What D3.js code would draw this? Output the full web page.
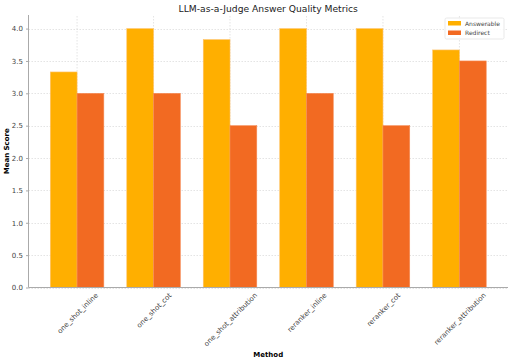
<!DOCTYPE html>
<html>
<head>
<meta charset="utf-8">
<script src="https://cdn.jsdelivr.net/npm/d3@7"></script>
<style>
  body { margin: 0; background: #fff; }
  text { font-family: "DejaVu Sans", sans-serif; }
</style>
</head>
<body>
<div id="chart"></div>
<script>
// data
let methods = ['one_shot_inline', 'one_shot_cot', 'one_shot_attribution', 'reranker_inline', 'reranker_cot', 'reranker_attribution'];
let answerable = [3.33, 4.0, 3.83, 4.0, 4.0, 3.67];
let redirect = [3.0, 3.0, 2.5, 3.0, 2.5, 3.5];
let seriesNames = ['Answerable', 'Redirect'];
let yTicks = [0, 0.5, 1.0, 1.5, 2.0, 2.5, 3.0, 3.5, 4.0];

let width = 512, height = 363;
let colors = ['#ffaf00', '#f26a22'];
let barW = 0.35;

let svg = d3.select('#chart').append('svg')
  .attr('width', width)
  .attr('height', height);

// matplotlib style numeric x axis, groups at 0..5
let x = d3.scaleLinear().domain([-0.635, methods.length - 1 + 0.635]).range([28.5, 508]);
let y = d3.scaleLinear().domain([0, 4.21]).range([287.5, 15]);

// grid
svg.append('g').selectAll('line.gy')
  .data(yTicks).enter().append('line')
  .attr('x1', x.range()[0]).attr('x2', x.range()[1])
  .attr('y1', d => Math.round(y(d)) + 0.5).attr('y2', d => Math.round(y(d)) + 0.5)
  .attr('stroke', '#d9d9d9').attr('stroke-width', 0.7).attr('stroke-dasharray', '1.5,1.5');
svg.append('g').selectAll('line.gx')
  .data(methods).enter().append('line')
  .attr('x1', (d, i) => x(i)).attr('x2', (d, i) => x(i))
  .attr('y1', y.range()[0]).attr('y2', y.range()[1])
  .attr('stroke', '#d9d9d9').attr('stroke-width', 0.7).attr('stroke-dasharray', '1.5,1.5');

// bars
let series = [answerable, redirect];
series.forEach(function(vals, s) {
  svg.append('g').selectAll('rect')
    .data(vals).enter().append('rect')
    .attr('x', (d, i) => x(i - barW + s * barW))
    .attr('width', x(barW) - x(0))
    .attr('y', d => y(d))
    .attr('height', d => y(0) - y(d))
    .attr('fill', colors[s])
    .attr('stroke', s === 0 ? '#ffc36b' : '#f58a55')
    .attr('stroke-width', 0.6);
});

// axes
let yAxis = svg.append('g')
  .attr('transform', 'translate(' + x.range()[0] + ',0)')
  .call(d3.axisLeft(y).tickValues(yTicks).tickFormat(d3.format('.1f')).tickSize(2.5).tickPadding(3));
yAxis.select('.domain').attr('stroke', '#aaa').attr('d', 'M0,' + y.range()[0] + 'V' + y.range()[1]);
yAxis.selectAll('.tick line').attr('stroke', '#aaa');
yAxis.selectAll('.tick text').attr('font-size', 7).attr('fill', '#444');

let xAxis = svg.append('g')
  .attr('transform', 'translate(0,' + y.range()[0] + ')')
  .call(d3.axisBottom(x).tickValues(d3.range(methods.length)).tickFormat(i => methods[i]).tickSize(0));
xAxis.select('.domain').attr('stroke', '#aaa').attr('d', 'M' + x.range()[0] + ',0H' + x.range()[1]);
xAxis.selectAll('.tick text')
  .attr('font-size', 7).attr('fill', '#444')
  .attr('y', 0).attr('dy', '0.35em')
  .attr('text-anchor', 'middle')
  .attr('transform', function() {
    let len = this.getComputedTextLength();
    let h = 7;
    let boxH = (len + h) * Math.SQRT1_2;
    return 'translate(0,' + (4 + boxH / 2) + ') rotate(-45)';
  });

// title and axis labels
svg.append('text')
  .attr('x', (x.range()[0] + x.range()[1]) / 2).attr('y', 12)
  .attr('text-anchor', 'middle').attr('font-size', 9.2).attr('fill', '#222')
  .text('LLM-as-a-Judge Answer Quality Metrics');

svg.append('text')
  .attr('x', (x.range()[0] + x.range()[1]) / 2).attr('y', 357)
  .attr('text-anchor', 'middle').attr('font-size', 7).attr('font-weight', 'bold')
  .text('Method');

svg.append('text')
  .attr('transform', 'translate(9,' + ((y.range()[0] + y.range()[1]) / 2) + ') rotate(-90)')
  .attr('text-anchor', 'middle').attr('font-size', 7).attr('font-weight', 'bold')
  .text('Mean Score');

// legend
let lg = svg.append('g').attr('transform', 'translate(445,18)');
lg.append('rect')
  .attr('width', 59).attr('height', 21).attr('rx', 1.5)
  .attr('fill', '#fff').attr('fill-opacity', 0.85)
  .attr('stroke', '#e0e0e0').attr('stroke-width', 0.7);
let items = lg.selectAll('g.item')
  .data(seriesNames).enter().append('g')
  .attr('transform', (d, i) => 'translate(3,' + (3 + i * 9.5) + ')');
items.append('rect')
  .attr('width', 13).attr('height', 4.5)
  .attr('fill', (d, i) => colors[i]);
items.append('text')
  .attr('x', 17).attr('y', 2.5).attr('dy', '0.35em')
  .attr('font-size', 6).attr('fill', '#444')
  .text(d => d);
</script>
</body>
</html>
